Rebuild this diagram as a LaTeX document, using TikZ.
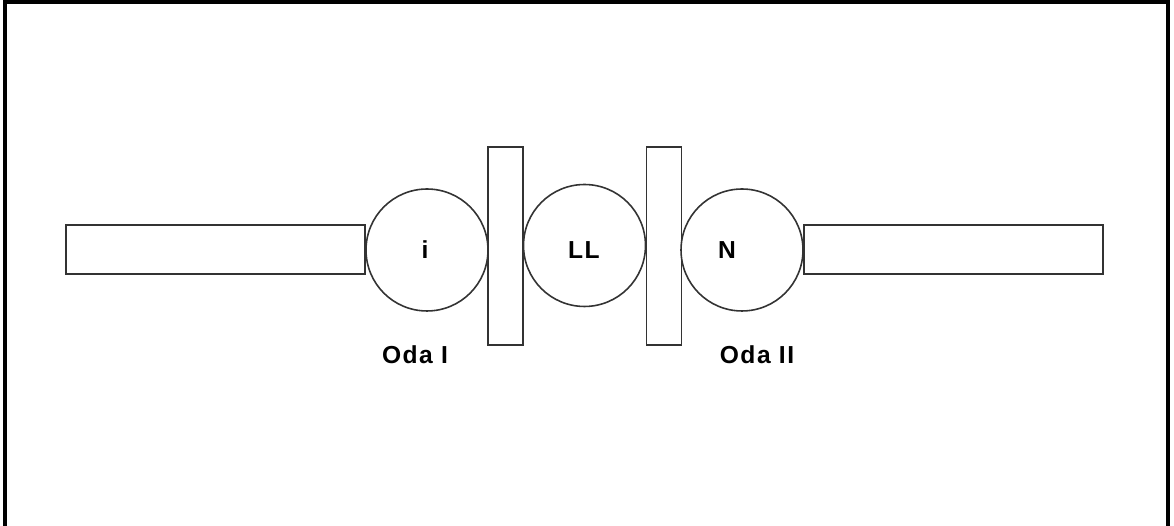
\documentclass[tikz,border=0pt]{standalone}
\usepackage{fontspec}
\setmainfont{Liberation Sans}
\usetikzlibrary{positioning}
\tikzset{
    roller/.style={
        ,   circle
        ,   draw=black!80
        ,   fill=white
        ,   minimum size=2.44cm
        ,   inner sep=0pt
        ,   line width=0.9pt
    },
    plate/.style={
        ,   rectangle
        ,   draw=black!80
        ,   fill=white
        ,   minimum width=0.7cm
        ,   minimum height=3.96cm
        ,   inner sep=0pt
        ,   line width=0.9pt
    },
    arm/.style={
        ,   rectangle
        ,   draw=black!80
        ,   fill=white
        ,   minimum width=5.99cm
        ,   minimum height=0.98cm
        ,   inner sep=0pt
        ,   line width=0.9pt
    },
    tag/.style={
        ,   inner sep=0pt
        ,   font={\fontsize{14pt}{16}\bfseries\addfontfeature{LetterSpace=6}}
    }
}

\begin{document}
\begin{tikzpicture}[x=0.02cm, y=-0.02cm]
\useasboundingbox (0,0) rectangle (1174,526);
% frame, open at the bottom
\draw[line width=1.8pt] (5,540) -- (5,2) -- (1168,2) -- (1168,540);

\node[arm] (armL) at (215.5,249.5) {};
\node[arm] (armR) at (953.5,249.5) {};
\node[plate] (plateL) at (505.5,246) {};
\node[plate] (plateR) at (664,246) {};

\node[roller] (i) at (427,250) {};
\node[roller] (LL) at (584.5,245.5) {};
\node[roller] (N) at (742,250) {};

\node[tag] (ti) at (425,250) {i};
\node[tag] (tLL) at (584,250) {LL};
\node[tag] (tN) at (727,250) {N};

\node[tag] (odaI) at (415,355) {Oda I};
\node[tag] (odaII) at (757,355) {Oda II};
\end{tikzpicture}
\end{document}
